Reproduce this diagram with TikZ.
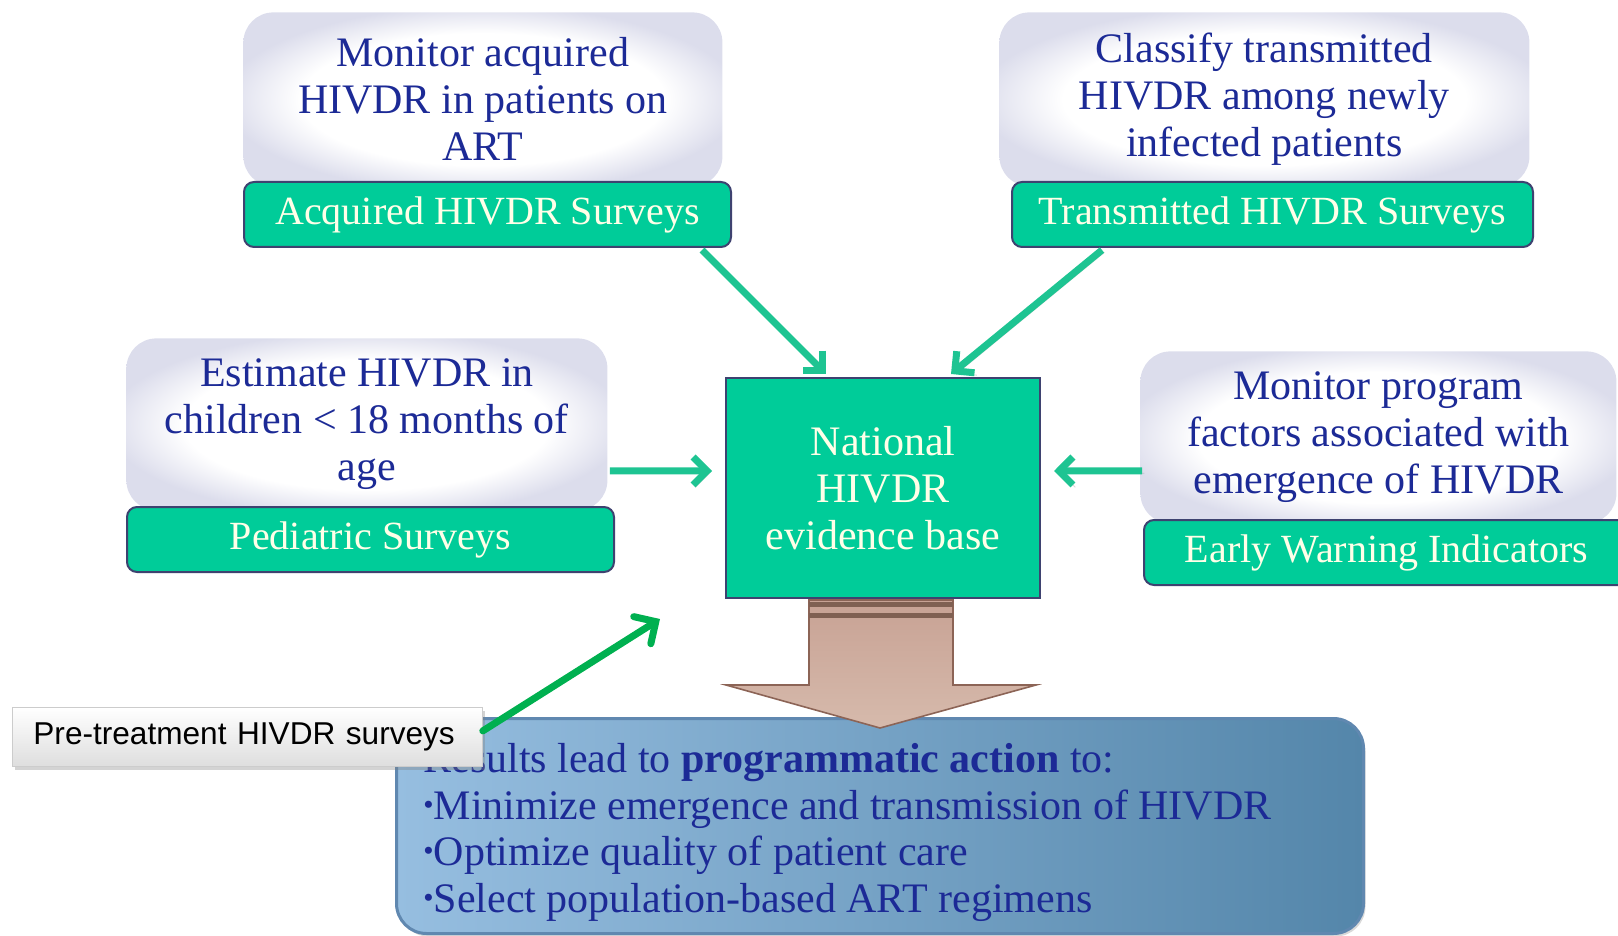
\documentclass[tikz,border=0pt]{standalone}
\usepackage{fontspec}
\setmainfont{Liberation Serif}
\newfontfamily\calloutfamily{Liberation Sans}
\usepackage{xcolor}
\definecolor{tealfill}{RGB}{0,204,153}
\definecolor{tealedge}{RGB}{62,66,112}
\definecolor{tealarrow}{RGB}{30,196,146}
\definecolor{navytext}{RGB}{28,42,150}
\definecolor{creamtext}{RGB}{255,255,232}
\definecolor{goaledge}{RGB}{220,221,236}
\definecolor{resleft}{RGB}{150,190,224}
\definecolor{resright}{RGB}{84,134,170}
\definecolor{resedge}{RGB}{96,136,176}
\definecolor{shafttop}{RGB}{200,162,148}
\definecolor{shaftbottom}{RGB}{214,186,172}
\definecolor{shaftedge}{RGB}{140,100,86}
\definecolor{shaftstripe}{RGB}{128,96,82}
\definecolor{pregreen}{RGB}{0,176,80}
\usepackage{tikz}
\usetikzlibrary{calc}
\usetikzlibrary{arrows.meta}
\usetikzlibrary{shadows}
\pgfdeclareradialshading{goalshade}{\pgfpoint{0bp}{0bp}}{color(0bp)=(white); color(19bp)=(white); color(27bp)=(goaledge); color(50bp)=(goaledge)}
\newcommand{\goalfont}{\fontsize{21}{23.5}\selectfont}
\newcommand{\tagfont}{\fontsize{20}{23.5}\selectfont}
\newcommand{\resfont}{\fontsize{21}{23.25}\selectfont}
\newcommand{\blt}{\raisebox{.12em}{\scalebox{.7}{\textbullet}}}
\tikzset{
    goal/.style={anchor=north west, rounded corners=15pt, shading=goalshade, text=navytext, align=center, font=\goalfont},
    tag/.style={anchor=north west, draw=tealedge, line width=1pt, fill=tealfill, rounded corners=5pt, text=creamtext, font=\tagfont, minimum height=32.5pt},
    hub/.style={anchor=north west, draw=tealedge, line width=1pt, fill=tealfill, text=creamtext, align=center, font=\goalfont, minimum width=157pt, minimum height=110pt},
    feed/.style={draw=tealarrow, line width=3.5pt, -{Straight Barb[length=7pt,width=14pt]},
        preaction={draw=black!50, opacity=.3, transform canvas={shift={(1.2pt,-1.2pt)}}}},
    shaft/.style={draw=shaftedge, line width=.8pt, top color=shafttop, bottom color=shaftbottom},
    resbox/.style={anchor=north west, draw=resedge, line width=1.5pt, rounded corners=15pt, left color=resleft, right color=resright, minimum width=483.5pt, minimum height=107.5pt,
        drop shadow={shadow xshift=1pt, shadow yshift=-1.5pt, opacity=.3}},
    restext/.style={anchor=north west, inner sep=0pt, align=left, text=navytext, font=\resfont},
    callout/.style={anchor=north west, draw=black!20, top color=white, bottom color=black!13, align=left, text width=214pt, inner xsep=10.5pt, minimum height=29.5pt,
        font=\calloutfamily\fontsize{15.8}{18}\selectfont, drop shadow={shadow xshift=1.5pt, shadow yshift=-2pt, opacity=.35}},
    pointer/.style={draw=pregreen, line width=3.5pt, line cap=round, -{Straight Barb[length=8pt,width=16pt, line cap=round]}}
}

\begin{document}
\begin{tikzpicture}[x=0.5pt, y=-0.5pt]
    \useasboundingbox (0,0) rectangle (1618,936);

    % four survey blocks: goal on top, survey name in the bar below
    \node[goal, minimum width=239.5pt, minimum height=87pt] (acq-goal) at (243,12) {Monitor acquired\\HIVDR in patients on\\ART};
    \node[tag, minimum width=243.5pt] (acq-tag) at (243,181) {Acquired HIVDR Surveys};

    \node[goal, minimum width=265pt, minimum height=87pt] (trn-goal) at (999,12) {Classify transmitted\\HIVDR among newly\\infected patients};
    \node[tag, minimum width=260.5pt] (trn-tag) at (1011,181) {Transmitted HIVDR Surveys};

    \node[goal, minimum width=240.5pt, minimum height=86pt] (ped-goal) at (126,338) {Estimate HIVDR in\\children < 18 months of\\age};
    \node[tag, minimum width=243.5pt] (ped-tag) at (126,506) {Pediatric Surveys};

    \node[goal, minimum width=238pt, minimum height=86pt] (ewi-goal) at (1140,351) {Monitor program\\factors associated with\\emergence of HIVDR};
    \node[tag, minimum width=242.5pt] (ewi-tag) at (1143,519) {Early Warning Indicators};

    \node[hub] (nat) at (725,377) {National\\HIVDR\\evidence base};

    \node[resbox] (res) at (395,717) {};
    \node[restext] (res-text) at (423,743) {Results lead to \textbf{programmatic action} to:\\
        \blt Minimize emergence and transmission of HIVDR\\
        \blt Optimize quality of patient care\\
        \blt Select population-based ART regimens};

    % broad arrow from the evidence base into the results
    \coordinate (tip) at ($(res.north)+(0,11)$);
    \path[shaft] ($(nat.south)+(-74,1)$) -- ($(nat.south)+(-74,86)$) -- ($(nat.south)+(-157,86)$)
        -- (tip) -- ($(nat.south)+(153,86)$) -- ($(nat.south)+(70,86)$) -- ($(nat.south)+(70,1)$) -- cycle;
    \fill[shaftstripe] ($(nat.south)+(-74,3)$) rectangle ($(nat.south)+(70,8)$);
    \fill[shaftstripe] ($(nat.south)+(-74,14)$) rectangle ($(nat.south)+(70,19)$);

    \draw[feed] ($(acq-tag.south east)+(-30,2)$) -- ($(nat.north west)+(101,-3)$);
    \draw[feed] ($(trn-tag.south west)+(91,2)$) -- ($(nat.north east)+(-90,-3)$);
    \draw[feed] ($(ped-goal.south east)+(2,-40)$) -- ($(nat.west)+(-13,-17)$);
    \draw[feed] ($(ewi-goal.south west)+(2,-53)$) -- ($(nat.east)+(13,-17)$);

    \node[callout] (pre) at (12,707) {Pre-treatment HIVDR surveys};
    \draw[pointer] ($(pre.east)+(0,-6)$) -- ($(nat.south west)+(-65,20)$);
\end{tikzpicture}
\end{document}
